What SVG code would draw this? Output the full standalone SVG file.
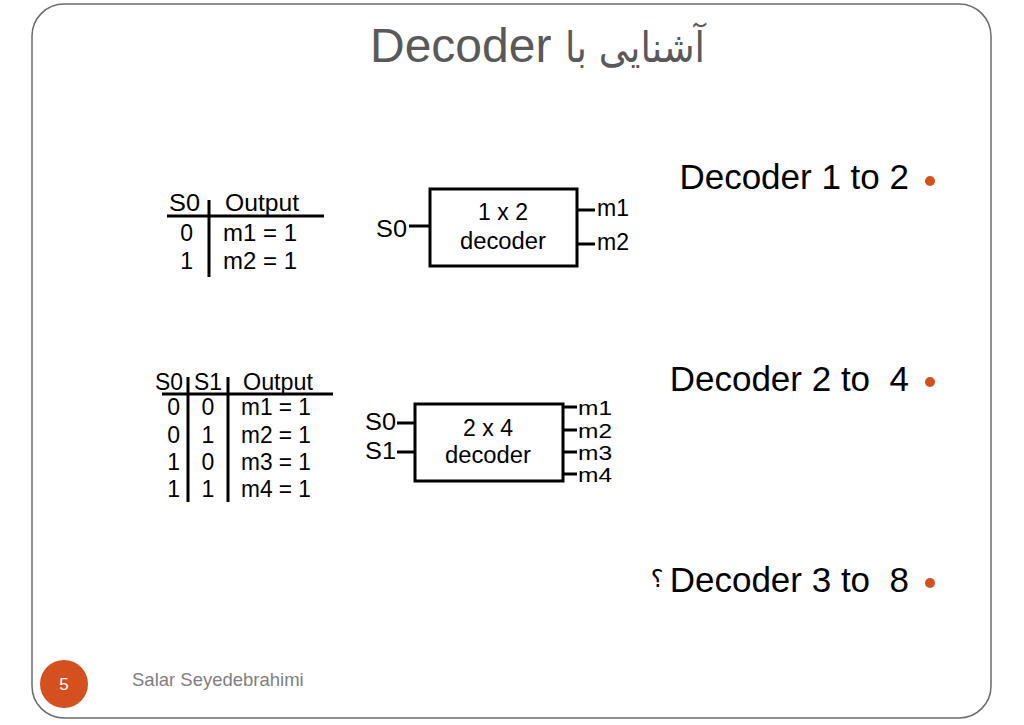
<svg xmlns="http://www.w3.org/2000/svg" width="1024" height="725" viewBox="0 0 1024 725">
<style>
.t{font-family:"Liberation Sans",Arial,sans-serif;font-size:23px;fill:#000}
.s{font-family:"Liberation Sans",Arial,sans-serif;font-size:20px;fill:#000}
.b{font-family:"Liberation Sans",Arial,sans-serif;font-size:35px;fill:#000;white-space:pre}
.ln{stroke:#000;stroke-width:3;fill:none}
.dot{fill:#D4501F}
</style>
<rect width="1024" height="725" fill="#fff"/>
<rect id="frame" x="32" y="4" width="959" height="714" rx="32" ry="32" fill="#fff" stroke="#6b6b6b" stroke-width="1.5"/>
<g id="title">
<text x="370" y="62" font-family="Liberation Sans,Arial,sans-serif" font-size="48" fill="#595959">Decoder</text>
<text x="705" y="62" text-anchor="end" font-family="DejaVu Sans,sans-serif" font-size="42" fill="#595959" textLength="140" lengthAdjust="spacingAndGlyphs">آشنایی با</text>
</g>
<g id="bullet1">
<text class="b" x="909" y="189" text-anchor="end">Decoder 1 to 2</text>
<circle class="dot" cx="930" cy="181" r="5"/>
</g>
<g id="bullet2">
<text class="b" x="909" y="391" text-anchor="end">Decoder 2 to  4</text>
<circle class="dot" cx="930" cy="382" r="5"/>
</g>
<g id="bullet3">
<text class="b" x="909" y="592" text-anchor="end">Decoder 3 to  8</text>
<text x="657" y="587" text-anchor="middle" font-family="DejaVu Sans,sans-serif" font-size="24" fill="#000">؟</text>
<circle class="dot" cx="930" cy="583" r="5"/>
</g>
<g id="table1">
<line class="ln" x1="167" y1="216" x2="324" y2="216"/>
<line class="ln" x1="209" y1="200" x2="209" y2="277"/>
<text class="t" x="200" y="211" text-anchor="end" textLength="31" lengthAdjust="spacingAndGlyphs">S0</text>
<text class="t" x="225" y="211" textLength="74" lengthAdjust="spacingAndGlyphs">Output</text>
<text class="t" x="193" y="241" text-anchor="end">0</text>
<text class="t" x="223" y="241" textLength="74" lengthAdjust="spacingAndGlyphs">m1 = 1</text>
<text class="t" x="193" y="269" text-anchor="end">1</text>
<text class="t" x="223" y="269" textLength="74" lengthAdjust="spacingAndGlyphs">m2 = 1</text>
</g>
<g id="decoder1">
<rect class="ln" x="430" y="189" width="147" height="77"/>
<text class="t" x="503" y="220" text-anchor="middle">1 x 2</text>
<text class="t" x="503" y="249" text-anchor="middle" textLength="86" lengthAdjust="spacingAndGlyphs">decoder</text>
<text class="t" x="376" y="237" textLength="31" lengthAdjust="spacingAndGlyphs">S0</text>
<text class="t" x="597" y="216" textLength="32" lengthAdjust="spacingAndGlyphs">m1</text>
<text class="t" x="597" y="250" textLength="32" lengthAdjust="spacingAndGlyphs">m2</text>
</g>
<g id="table2">
<line class="ln" x1="162" y1="394" x2="333" y2="394"/>
<line class="ln" x1="188" y1="377" x2="188" y2="502"/>
<line class="ln" x1="228" y1="377" x2="228" y2="502"/>
<text class="t" x="155" y="390" textLength="28" lengthAdjust="spacingAndGlyphs">S0</text>
<text class="t" x="194" y="390" textLength="28" lengthAdjust="spacingAndGlyphs">S1</text>
<text class="t" x="243" y="390" textLength="70" lengthAdjust="spacingAndGlyphs">Output</text>
<text class="t" x="180" y="415" text-anchor="end">0</text>
<text class="t" x="208" y="415" text-anchor="middle">0</text>
<text class="t" x="241" y="415" textLength="70" lengthAdjust="spacingAndGlyphs">m1 = 1</text>
<text class="t" x="180" y="443" text-anchor="end">0</text>
<text class="t" x="208" y="443" text-anchor="middle">1</text>
<text class="t" x="241" y="443" textLength="70" lengthAdjust="spacingAndGlyphs">m2 = 1</text>
<text class="t" x="180" y="470" text-anchor="end">1</text>
<text class="t" x="208" y="470" text-anchor="middle">0</text>
<text class="t" x="241" y="470" textLength="70" lengthAdjust="spacingAndGlyphs">m3 = 1</text>
<text class="t" x="180" y="497" text-anchor="end">1</text>
<text class="t" x="208" y="497" text-anchor="middle">1</text>
<text class="t" x="241" y="497" textLength="70" lengthAdjust="spacingAndGlyphs">m4 = 1</text>
</g>
<g id="decoder2">
<rect class="ln" x="415" y="404" width="148" height="77"/>
<text class="t" x="488" y="436" text-anchor="middle">2 x 4</text>
<text class="t" x="488" y="463" text-anchor="middle" textLength="86" lengthAdjust="spacingAndGlyphs">decoder</text>
<text class="t" x="365" y="430" textLength="31" lengthAdjust="spacingAndGlyphs">S0</text>
<text class="t" x="365" y="459" textLength="31" lengthAdjust="spacingAndGlyphs">S1</text>
<text class="s" x="578" y="415" textLength="34" lengthAdjust="spacingAndGlyphs">m1</text>
<text class="s" x="578" y="438" textLength="34" lengthAdjust="spacingAndGlyphs">m2</text>
<text class="s" x="578" y="460" textLength="34" lengthAdjust="spacingAndGlyphs">m3</text>
<text class="s" x="578" y="482" textLength="34" lengthAdjust="spacingAndGlyphs">m4</text>
</g>
<g id="connectors">
<line class="ln" x1="409" y1="226" x2="430" y2="226"/>
<line class="ln" x1="577" y1="210" x2="595" y2="210"/>
<line class="ln" x1="577" y1="244" x2="595" y2="244"/>
<line class="ln" x1="397" y1="423" x2="415" y2="423"/>
<line class="ln" x1="397" y1="452" x2="415" y2="452"/>
<line class="ln" x1="563" y1="407" x2="577" y2="407"/>
<line class="ln" x1="563" y1="430" x2="577" y2="430"/>
<line class="ln" x1="563" y1="452" x2="577" y2="452"/>
<line class="ln" x1="563" y1="474" x2="577" y2="474"/>
</g>
<g id="footer">
<circle class="dot" cx="64" cy="684" r="24"/>
<text x="64" y="690" text-anchor="middle" font-family="Liberation Sans,Arial,sans-serif" font-size="17" fill="#fff">5</text>
<text x="132" y="686" font-family="Liberation Sans,Arial,sans-serif" font-size="18.5" fill="#7f7f7f">Salar Seyedebrahimi</text>
</g>
</svg>
